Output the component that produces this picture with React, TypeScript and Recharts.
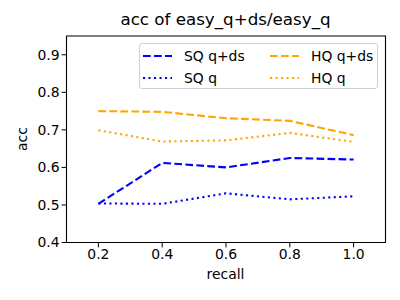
import { LineChart, Line, XAxis, YAxis, Legend, ReferenceArea } from 'recharts'

const recall = [0.2, 0.4, 0.6, 0.8, 1.0]
const sqQds = [0.503, 0.612, 0.6, 0.625, 0.621]
const sqQ = [0.504, 0.503, 0.531, 0.515, 0.523]
const hqQds = [0.75, 0.748, 0.731, 0.724, 0.686]
const hqQ = [0.699, 0.669, 0.672, 0.692, 0.668]

const xTicks = [0.2, 0.4, 0.6, 0.8, 1.0]
const yTicks = [0.4, 0.5, 0.6, 0.7, 0.8, 0.9]
const xDomain = [0.1, 1.1]
const yDomain = [0.4, 0.95]

const font = '"DejaVu Sans", sans-serif'
const BLUE = '#0000ff'
const ORANGE = '#ffa500'
const DASH = '7.7 3.3'
const DOT = '2.1 3.4'

const series = [
  { key: 'sqQds', name: 'SQ q+ds', color: BLUE, dash: DASH },
  { key: 'hqQds', name: 'HQ q+ds', color: ORANGE, dash: DASH },
  { key: 'sqQ', name: 'SQ q', color: BLUE, dash: DOT },
  { key: 'hqQ', name: 'HQ q', color: ORANGE, dash: DOT },
]

const data = recall.map((r, i) => ({
  recall: r,
  sqQds: sqQds[i],
  sqQ: sqQ[i],
  hqQds: hqQds[i],
  hqQ: hqQ[i],
}))

// matplotlib style legend box, two columns
const LegendBox = () => (
  <div
    style={{
      width: 237,
      height: 44,
      border: '1px solid #d0d0d0',
      borderRadius: 3,
      background: 'rgba(255,255,255,0.8)',
      fontFamily: font,
      fontSize: 13.9,
      position: 'relative',
    }}
  >
    {series.map((s, i) => {
      const col = i % 2
      const row = Math.floor(i / 2)
      return (
        <div
          key={s.key}
          style={{
            position: 'absolute',
            left: 3 + col * 127,
            top: 2 + row * 21.7,
            display: 'flex',
            alignItems: 'center',
            height: 20,
          }}
        >
          <svg width={30} height={6}>
            <line x1={0} y1={3} x2={29} y2={3} stroke={s.color} strokeWidth={2.1} strokeDasharray={s.dash} />
          </svg>
          <span style={{ marginLeft: 11, lineHeight: '20px' }}>{s.name}</span>
        </div>
      )
    })}
  </div>
)

export default function App() {
  const fmt = (v: number) => v.toFixed(1)
  return (
    <div style={{ position: 'absolute', left: 0, top: 0, width: 400, height: 300, background: '#fff' }}>
      <LineChart width={400} height={300} data={data} margin={{ top: 36, right: 14.5, left: 6.5, bottom: 27.5 }}>
        <XAxis
          dataKey="recall"
          type="number"
          domain={xDomain}
          ticks={xTicks}
          tickFormatter={fmt}
          height={30}
          stroke="#000"
          tickSize={4.9}
          tick={{ fill: '#000', fontSize: 13.9, fontFamily: font }}
          allowDataOverflow
        />
        <YAxis
          type="number"
          domain={yDomain}
          ticks={yTicks}
          tickFormatter={fmt}
          width={60}
          stroke="#000"
          tickSize={4.9}
          tick={{ fill: '#000', fontSize: 13.9, fontFamily: font }}
          allowDataOverflow
        />
        <ReferenceArea x1={xDomain[0]} x2={xDomain[1]} y1={yDomain[0]} y2={yDomain[1]} fill="none" stroke="#000" strokeWidth={1.1} />
        {series.map((s) => (
          <Line
            key={s.key}
            dataKey={s.key}
            name={s.name}
            stroke={s.color}
            strokeWidth={2.1}
            strokeDasharray={s.dash}
            dot={false}
            activeDot={false}
            isAnimationActive={false}
          />
        ))}
        <Legend
          layout="vertical"
          align="center"
          verticalAlign="middle"
          content={<LegendBox />}
          wrapperStyle={{ left: 139, top: 43, width: 239, height: 46 }}
        />
      </LineChart>
      <div style={{ position: 'absolute', left: 66, width: 319, top: 9, textAlign: 'center', fontFamily: font, fontSize: 16.7, lineHeight: '20px' }}>
        acc of easy_q+ds/easy_q
      </div>
      <div style={{ position: 'absolute', left: 66, width: 319, top: 266, textAlign: 'center', fontFamily: font, fontSize: 13.9, lineHeight: '16px' }}>
        recall
      </div>
      <div
        style={{
          position: 'absolute',
          left: 22 - 30,
          top: 139 - 8,
          width: 60,
          textAlign: 'center',
          transform: 'rotate(-90deg)',
          fontFamily: font,
          fontSize: 13.9,
          lineHeight: '16px',
        }}
      >
        acc
      </div>
    </div>
  )
}
